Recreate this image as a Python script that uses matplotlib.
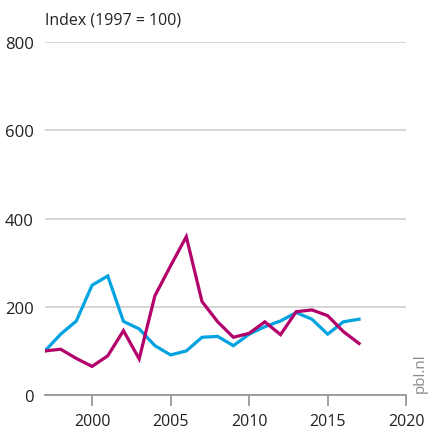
import matplotlib
matplotlib.use("Agg")
import matplotlib.pyplot as plt

years = list(range(1997, 2018))
blue_values = [100, 138, 168, 249, 270, 167, 150, 112, 91, 100, 131, 133,
               112, 138, 155, 168, 187, 172, 138, 166, 172]
red_values = [100, 104, 83, 65, 89, 146, 82, 225, 293, 359, 212, 166,
              131, 140, 166, 137, 189, 193, 180, 144, 117]
y_ticks = [0, 200, 400, 600, 800]
x_ticks = [2000, 2005, 2010, 2015, 2020]

plt.rcParams['font.family'] = ['Open Sans', 'DejaVu Sans']

fig = plt.figure(figsize=(4.28, 4.31), dpi=100)
ax = fig.add_axes([0.105, 0.081, 0.844, 0.819])

ax.plot(years, blue_values, color="#00a3e0", lw=2.3, solid_joinstyle="miter", zorder=3)
ax.plot(years, red_values, color="#b3006b", lw=2.3, solid_joinstyle="miter", zorder=3)

ax.set_xlim(1997, 2020)
ax.set_ylim(0, 800)
ax.set_yticks(y_ticks)
ax.set_xticks(x_ticks)
ax.grid(axis="y", color="#d0d0d0", lw=1.2)
ax.set_axisbelow(True)
for s in ["top", "right", "left"]:
    ax.spines[s].set_visible(False)
ax.spines["bottom"].set_color("#909090")
ax.spines["bottom"].set_linewidth(1.2)
ax.tick_params(axis="y", length=0, pad=8, labelsize=12, colors="#222222")
ax.tick_params(axis="x", length=8, width=1.2, color="#909090", pad=5,
               labelsize=11.5, labelcolor="#222222")

fig.text(0.105, 0.953, "Index (1997 = 100)", fontsize=11.5, color="#222222", va="center")
fig.text(0.982, 0.135, "pbl.nl", rotation=90, fontsize=11, color="#888888",
         ha="center", va="center")

fig.savefig("out.png", dpi=100)
